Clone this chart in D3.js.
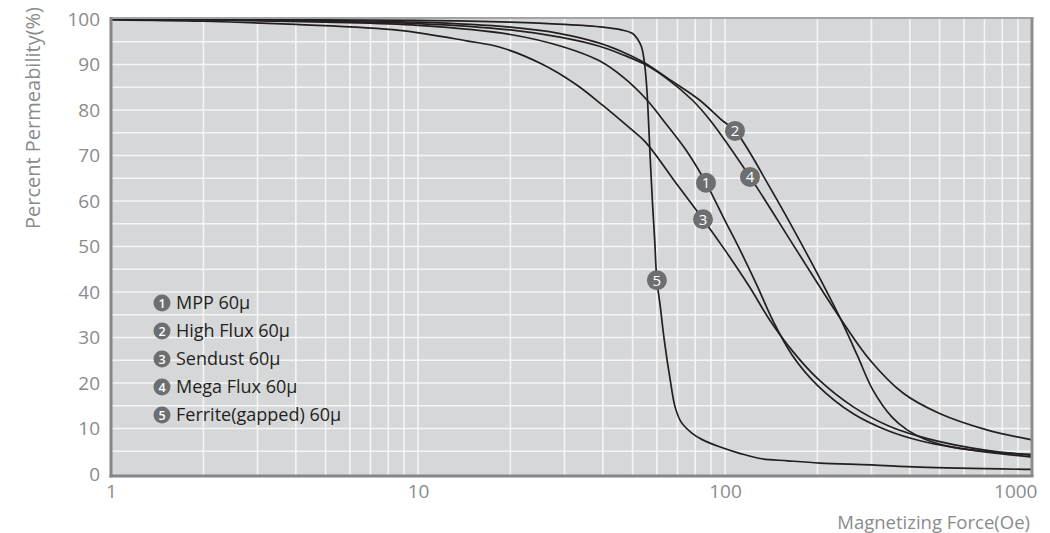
<!DOCTYPE html>
<html>
<head>
<meta charset="utf-8">
<script src="https://cdn.jsdelivr.net/npm/d3@7/dist/d3.min.js"></script>
<style>
  html, body { margin: 0; padding: 0; background: #ffffff; }
  svg { display: block; font-family: "Open Sans", "Noto Sans", sans-serif; }
</style>
</head>
<body>
<svg id="chart" width="1050" height="533"></svg>
<script>
// ---------------- data ----------------
const seriesNames = ["MPP 60μ", "High Flux 60μ", "Sendust 60μ", "Mega Flux 60μ", "Ferrite(gapped) 60μ"];

const mppH = [1, 2, 5, 10, 20, 30, 39, 47, 55.7, 62.8, 75, 86.7, 100, 112, 127, 143, 166, 200, 261, 340, 432, 560, 713, 1000];
const mppP = [100, 99.8, 99.3, 98.6, 96.6, 93.8, 90.8, 87, 82.2, 77.8, 71, 64, 55.7, 49.2, 41.5, 33.8, 26, 19.5, 13.3, 9.5, 7.3, 5.8, 4.8, 3.7];

const highFluxH = [1, 3, 10, 20, 29, 39, 47, 55, 65, 82.6, 97.5, 108, 140, 182, 237, 270, 303, 350, 392, 450, 553, 750, 1000];
const highFluxP = [100, 99.8, 99.3, 98.2, 96.8, 94.7, 92.6, 90.3, 87, 82.2, 77.8, 75.4, 63, 49.2, 34.3, 26, 18.5, 12.5, 9.7, 7.6, 5.9, 4.8, 4.3];

const sendustH = [1, 2, 4, 8.7, 14.4, 18.5, 25.5, 32.9, 40, 49, 55, 70, 84.8, 100, 120, 140, 166, 200, 261, 340, 432, 560, 713, 1000];
const sendustP = [99.8, 99.5, 98.8, 97.5, 95.2, 93.8, 90, 85.5, 81, 76, 73, 63.5, 56, 49.2, 41.2, 33.8, 27, 21, 14.8, 10.6, 8.2, 6.4, 5.2, 4.1];

const megaFluxH = [1, 3, 10, 20, 29, 39, 47, 55, 65, 78.2, 89.3, 120.6, 171, 237, 297, 380, 500, 713, 1000];
const megaFluxP = [100, 99.7, 99.0, 97.6, 96.0, 94.0, 92.0, 90.0, 86.8, 82.2, 77.8, 65.3, 49.2, 34.3, 25, 17.8, 13.3, 9.7, 7.5];

const ferriteH = [1, 10, 20, 30, 40, 46, 50, 52, 53.5, 54.5, 55.3, 56, 57, 58, 59, 60, 61.5, 63.4, 66.3, 68.8, 72, 78, 84.6, 96, 111, 130, 160, 204, 300, 432, 1000];
const ferriteP = [100, 99.7, 99.3, 98.8, 98.2, 97.6, 96.8, 95.5, 93.8, 91, 87, 81.5, 70, 60, 51.5, 42.6, 37, 29.5, 20.7, 14.7, 11.4, 9, 7.5, 6, 4.6, 3.4, 2.9, 2.4, 2, 1.5, 1.0];

// numbered markers placed on each curve (H, P)
const markerH = [86.7, 107.8, 84.8, 120.6, 60];
const markerP = [64, 75.4, 56, 65.3, 42.6];

const xTickValues = [1, 10, 100, 1000];
const yTickValues = [0, 10, 20, 30, 40, 50, 60, 70, 80, 90, 100];

const xTitle = "Magnetizing Force(Oe)";
const yTitle = "Percent Permeability(%)";

// ---------------- chart ----------------
const svg = d3.select("#chart");
const mLeft = 111, mRight = 1032, mTop = 19, mBottom = 474;

const x = d3.scaleLog().domain([1, 1000]).range([mLeft, mRight]);
const y = d3.scaleLinear().domain([0, 100]).range([mBottom, mTop]);

const plotTop = mTop - 1, plotBottom = mBottom + 2;

// background
svg.append("rect")
  .attr("x", mLeft).attr("y", plotTop)
  .attr("width", mRight - mLeft).attr("height", plotBottom - plotTop)
  .attr("fill", "#d6d7d9");

// grid
const grid = svg.append("g").attr("stroke", "#f5f5f5").attr("stroke-width", 1.6);
grid.selectAll("line.v")
  .data(x.ticks().filter(v => v > 1 && v < 1000))
  .join("line").attr("class", "v")
  .attr("x1", d => x(d)).attr("x2", d => x(d))
  .attr("y1", plotTop).attr("y2", plotBottom);
grid.selectAll("line.h")
  .data(d3.range(5, 100, 5))
  .join("line").attr("class", "h")
  .attr("x1", mLeft).attr("x2", mRight)
  .attr("y1", d => y(d)).attr("y2", d => y(d));

// clip
svg.append("clipPath").attr("id", "plotclip")
  .append("rect").attr("x", mLeft).attr("y", plotTop)
  .attr("width", mRight - mLeft).attr("height", plotBottom - plotTop);

// curves
const series = [
  [mppH, mppP],
  [highFluxH, highFluxP],
  [sendustH, sendustP],
  [megaFluxH, megaFluxP],
  [ferriteH, ferriteP]
];
const line = d3.line()
  .x(d => x(d[0])).y(d => y(d[1]))
  .curve(d3.curveCatmullRom.alpha(0.5));

svg.append("g").attr("clip-path", "url(#plotclip)")
  .selectAll("path")
  .data(series)
  .join("path")
  .attr("d", s => line(s[0].map((h, i) => [h, s[1][i]])))
  .attr("fill", "none")
  .attr("stroke", "#231f20")
  .attr("stroke-width", 1.7);

// frame
const frame = svg.append("g");
frame.append("line").attr("x1", mLeft).attr("x2", mRight + 1.5)
  .attr("y1", plotTop).attr("y2", plotTop)
  .attr("stroke", "#a3a4a6").attr("stroke-width", 2);
frame.append("line").attr("x1", mRight).attr("x2", mRight)
  .attr("y1", plotTop).attr("y2", plotBottom)
  .attr("stroke", "#8d8e90").attr("stroke-width", 3);
frame.append("line").attr("x1", mLeft).attr("x2", mLeft)
  .attr("y1", plotTop - 1).attr("y2", plotBottom + 1.5)
  .attr("stroke", "#858688").attr("stroke-width", 3);
frame.append("line").attr("x1", mLeft - 1.5).attr("x2", mRight + 1.5)
  .attr("y1", plotBottom).attr("y2", plotBottom)
  .attr("stroke", "#858688").attr("stroke-width", 3);

// markers on curves
const mk = svg.append("g").selectAll("g")
  .data(markerH.map((h, i) => ({ h, p: markerP[i], n: i + 1 })))
  .join("g")
  .attr("transform", d => `translate(${x(d.h)},${y(d.p)})`);
mk.append("circle").attr("r", 10).attr("fill", "#6d6e70");
mk.append("text")
  .attr("text-anchor", "middle").attr("dy", "0.36em")
  .attr("fill", "#ffffff").attr("font-size", 15)
  .text(d => d.n);

// y axis labels
const yAxis = d3.axisLeft(y).tickValues(yTickValues).tickSize(0).tickPadding(0);
const yg = svg.append("g").attr("transform", `translate(${mLeft - 11},0)`).call(yAxis);
yg.select(".domain").remove();
yg.selectAll("text")
  .attr("font-family", "'Open Sans', sans-serif")
  .attr("font-size", 19).attr("fill", "#8a8b8d");

// x axis labels
const xAxis = d3.axisBottom(x).tickValues(xTickValues).tickFormat(d3.format("d")).tickSize(0).tickPadding(0);
const xg = svg.append("g").attr("transform", `translate(0,${plotBottom + 8})`).call(xAxis);
xg.select(".domain").remove();
xg.selectAll("text")
  .attr("font-family", "'Open Sans', sans-serif")
  .attr("font-size", 19).attr("fill", "#8a8b8d");
xg.selectAll(".tick").filter(d => d === 1000).select("text").attr("text-anchor", "end").attr("dx", 5);

// axis titles
svg.append("text")
  .attr("transform", `translate(40,${mTop + 99}) rotate(-90)`)
  .attr("text-anchor", "middle")
  .attr("font-size", 20).attr("fill", "#8a8b8d")
  .text(yTitle);
svg.append("text")
  .attr("x", 1030).attr("y", 529)
  .attr("text-anchor", "end")
  .attr("font-size", 18.5).attr("fill", "#8a8b8d")
  .text(xTitle);

// legend
const lg = svg.append("g").selectAll("g")
  .data(seriesNames)
  .join("g")
  .attr("transform", (d, i) => `translate(162,${303 + i * 28})`);
lg.append("circle").attr("r", 8.5).attr("fill", "#6d6e70");
lg.append("text")
  .attr("text-anchor", "middle").attr("dy", "0.36em")
  .attr("fill", "#ffffff").attr("font-size", 12.5).attr("font-weight", 600)
  .text((d, i) => i + 1);
lg.append("text")
  .attr("x", 14).attr("dy", "0.36em")
  .attr("fill", "#231f20").attr("font-size", 18)
  .text(d => d);
</script>
</body>
</html>
